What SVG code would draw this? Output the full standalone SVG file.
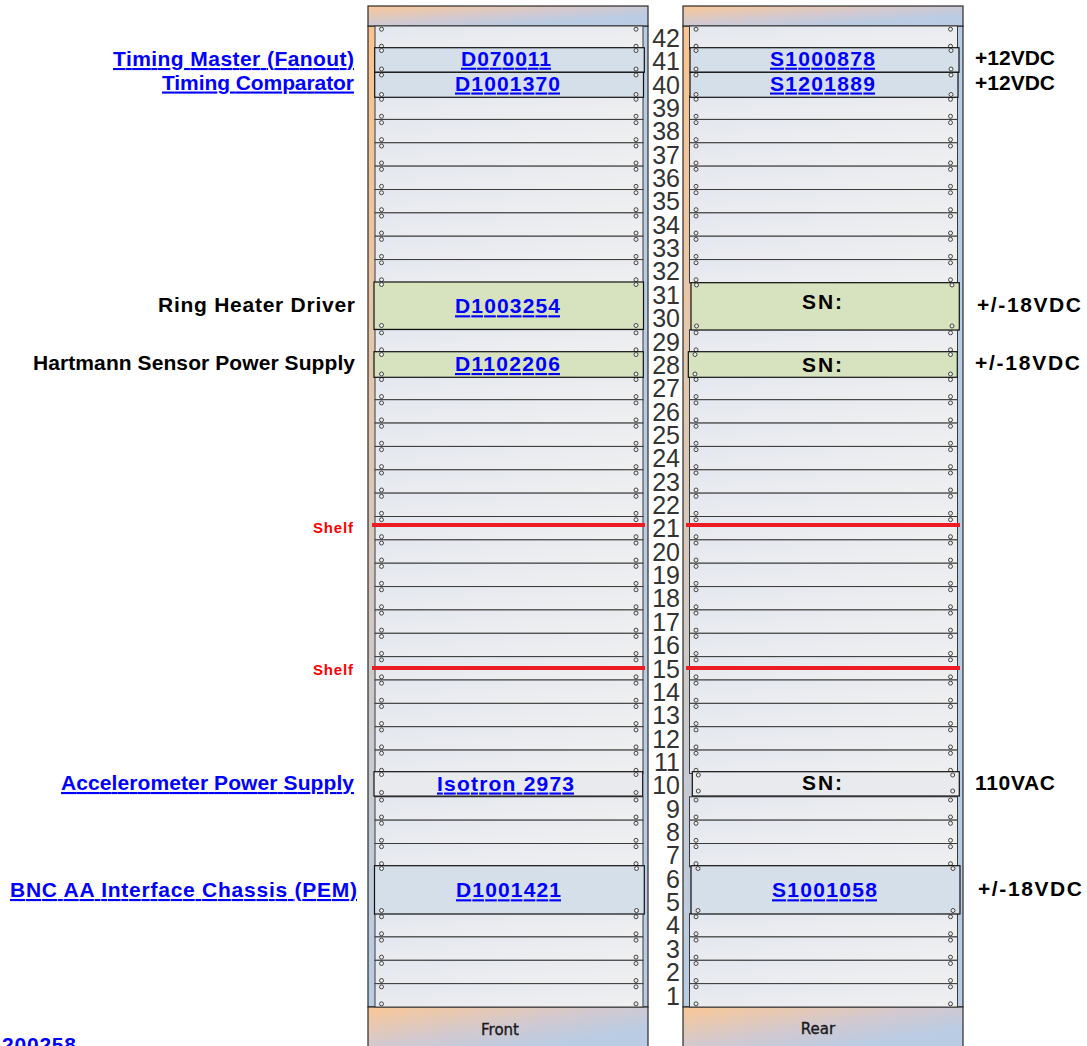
<svg xmlns="http://www.w3.org/2000/svg" xmlns:xlink="http://www.w3.org/1999/xlink" width="1087" height="1046" viewBox="0 0 1087 1046">
<style>
.body{fill:url(#gBody);stroke:#2a2a2a;stroke-width:1.2}
.hdr{fill:url(#gHdr);stroke:#2a2a2a;stroke-width:1.2}
.blank{fill:url(#gBlank);stroke:#3a3a3a;stroke-width:1}
.scr{fill:#eeeeee;stroke:#444;stroke-width:1}
.dblue{fill:#d5dfea;stroke:#111;stroke-width:1.2}
.dgreen{fill:#d7e3bf;stroke:#111;stroke-width:1.2}
.dgrey{fill:#e9eaed;stroke:#111;stroke-width:1.2}
.lbl{font-family:"Liberation Sans",Arial,sans-serif;font-weight:bold;font-size:21px;fill:#000}
.link{fill:#0000ff;text-decoration:underline}
.num{font-family:"Liberation Sans",Arial,sans-serif;font-size:25px;fill:#333;text-anchor:end}
.shelf{stroke:#ed1c24;stroke-width:4}
.shelftxt{font-family:"Liberation Sans",Arial,sans-serif;font-weight:bold;font-size:15px;fill:#ff0000}
.side{font-family:"DejaVu Sans",sans-serif;font-size:15px;fill:#1a1a1a;stroke:#1a1a1a;stroke-width:0.35;text-anchor:middle}
</style>
<defs>
<linearGradient id="gBody" x1="0" y1="0" x2="1" y2="1">
<stop offset="0" stop-color="#fbc48e"/>
<stop offset="0.5" stop-color="#b8cce4"/>
<stop offset="1" stop-color="#b8cce4"/>
</linearGradient>
<linearGradient id="gHdr" x1="0" y1="0" x2="1" y2="1">
<stop offset="0" stop-color="#fac796"/>
<stop offset="0.45" stop-color="#d2c9d0"/>
<stop offset="0.75" stop-color="#b9cce4"/>
<stop offset="1" stop-color="#b9cce4"/>
</linearGradient>
<linearGradient id="gBlank" x1="0" y1="0" x2="1" y2="1">
<stop offset="0" stop-color="#e3e7ef"/>
<stop offset="1" stop-color="#f0f0f0"/>
</linearGradient>
<g id="blank">
<rect class="blank" x="0" y="0" width="268" height="23.36"/>
<circle class="scr" cx="6.5" cy="3.2" r="2"/>
<circle class="scr" cx="6.5" cy="20.2" r="2"/>
<circle class="scr" cx="261" cy="3.2" r="2"/>
<circle class="scr" cx="261" cy="20.2" r="2"/>
</g>
</defs>
<rect x="0" y="0" width="1087" height="1046" fill="#ffffff"/>

<g id="rack-front">
<rect class="body" x="368" y="26" width="280" height="981"/>
<rect class="hdr" x="368" y="6" width="280" height="20"/>
<rect class="hdr" x="368" y="1007" width="280" height="45"/>
<text class="side" x="500" y="1035">Front</text>
<g id="front-blanks">
<use xlink:href="#blank" x="375" y="26"/>
<use xlink:href="#blank" x="375" y="96.07"/>
<use xlink:href="#blank" x="375" y="119.43"/>
<use xlink:href="#blank" x="375" y="142.79"/>
<use xlink:href="#blank" x="375" y="166.14"/>
<use xlink:href="#blank" x="375" y="189.5"/>
<use xlink:href="#blank" x="375" y="212.86"/>
<use xlink:href="#blank" x="375" y="236.21"/>
<use xlink:href="#blank" x="375" y="259.57"/>
<use xlink:href="#blank" x="375" y="329.64"/>
<use xlink:href="#blank" x="375" y="376.36"/>
<use xlink:href="#blank" x="375" y="399.71"/>
<use xlink:href="#blank" x="375" y="423.07"/>
<use xlink:href="#blank" x="375" y="446.43"/>
<use xlink:href="#blank" x="375" y="469.79"/>
<use xlink:href="#blank" x="375" y="493.14"/>
<use xlink:href="#blank" x="375" y="516.5"/>
<use xlink:href="#blank" x="375" y="539.86"/>
<use xlink:href="#blank" x="375" y="563.21"/>
<use xlink:href="#blank" x="375" y="586.57"/>
<use xlink:href="#blank" x="375" y="609.93"/>
<use xlink:href="#blank" x="375" y="633.29"/>
<use xlink:href="#blank" x="375" y="656.64"/>
<use xlink:href="#blank" x="375" y="680"/>
<use xlink:href="#blank" x="375" y="703.36"/>
<use xlink:href="#blank" x="375" y="726.71"/>
<use xlink:href="#blank" x="375" y="750.07"/>
<use xlink:href="#blank" x="375" y="796.79"/>
<use xlink:href="#blank" x="375" y="820.14"/>
<use xlink:href="#blank" x="375" y="843.5"/>
<use xlink:href="#blank" x="375" y="913.57"/>
<use xlink:href="#blank" x="375" y="936.93"/>
<use xlink:href="#blank" x="375" y="960.29"/>
<use xlink:href="#blank" x="375" y="983.64"/>
</g>
</g>

<g id="rack-rear">
<rect class="body" x="683" y="26" width="280" height="981"/>
<rect class="hdr" x="683" y="6" width="280" height="20"/>
<rect class="hdr" x="683" y="1007" width="280" height="45"/>
<text class="side" x="818" y="1034">Rear</text>
<g id="rear-blanks">
<use xlink:href="#blank" x="689.5" y="26"/>
<use xlink:href="#blank" x="689.5" y="96.07"/>
<use xlink:href="#blank" x="689.5" y="119.43"/>
<use xlink:href="#blank" x="689.5" y="142.79"/>
<use xlink:href="#blank" x="689.5" y="166.14"/>
<use xlink:href="#blank" x="689.5" y="189.5"/>
<use xlink:href="#blank" x="689.5" y="212.86"/>
<use xlink:href="#blank" x="689.5" y="236.21"/>
<use xlink:href="#blank" x="689.5" y="259.57"/>
<use xlink:href="#blank" x="689.5" y="329.64"/>
<use xlink:href="#blank" x="689.5" y="376.36"/>
<use xlink:href="#blank" x="689.5" y="399.71"/>
<use xlink:href="#blank" x="689.5" y="423.07"/>
<use xlink:href="#blank" x="689.5" y="446.43"/>
<use xlink:href="#blank" x="689.5" y="469.79"/>
<use xlink:href="#blank" x="689.5" y="493.14"/>
<use xlink:href="#blank" x="689.5" y="516.5"/>
<use xlink:href="#blank" x="689.5" y="539.86"/>
<use xlink:href="#blank" x="689.5" y="563.21"/>
<use xlink:href="#blank" x="689.5" y="586.57"/>
<use xlink:href="#blank" x="689.5" y="609.93"/>
<use xlink:href="#blank" x="689.5" y="633.29"/>
<use xlink:href="#blank" x="689.5" y="656.64"/>
<use xlink:href="#blank" x="689.5" y="680"/>
<use xlink:href="#blank" x="689.5" y="703.36"/>
<use xlink:href="#blank" x="689.5" y="726.71"/>
<use xlink:href="#blank" x="689.5" y="750.07"/>
<use xlink:href="#blank" x="689.5" y="796.79"/>
<use xlink:href="#blank" x="689.5" y="820.14"/>
<use xlink:href="#blank" x="689.5" y="843.5"/>
<use xlink:href="#blank" x="689.5" y="913.57"/>
<use xlink:href="#blank" x="689.5" y="936.93"/>
<use xlink:href="#blank" x="689.5" y="960.29"/>
<use xlink:href="#blank" x="689.5" y="983.64"/>
</g>
</g>

<g id="shelves">
<line class="shelf" x1="372" y1="525" x2="645" y2="525"/>
<line class="shelf" x1="686" y1="525" x2="960" y2="525"/>
<line class="shelf" x1="372" y1="668" x2="645" y2="668"/>
<line class="shelf" x1="686" y1="668" x2="960" y2="668"/>
</g>

<g id="dev-D070011">
<rect class="dblue" x="374.7" y="47.7" width="269.6" height="24.6"/>
<circle class="scr" cx="381.5" cy="50.5" r="2"/><circle class="scr" cx="381.5" cy="69" r="2"/>
<circle class="scr" cx="636" cy="50.5" r="2"/><circle class="scr" cx="636" cy="69" r="2"/>
<text class="lbl link" x="461" y="65.7" textLength="90">D070011</text>
</g>
<g id="dev-D1001370">
<rect class="dblue" x="374.7" y="72.3" width="268.8" height="25"/>
<circle class="scr" cx="381.5" cy="75" r="2"/><circle class="scr" cx="381.5" cy="94.5" r="2"/>
<circle class="scr" cx="636" cy="75" r="2"/><circle class="scr" cx="636" cy="94.5" r="2"/>
<text class="lbl link" x="455" y="90.5" textLength="105">D1001370</text>
</g>
<g id="dev-S1000878">
<rect class="dblue" x="690" y="47.7" width="269" height="24.6"/>
<circle class="scr" cx="696" cy="50.5" r="2"/><circle class="scr" cx="696" cy="69" r="2"/>
<circle class="scr" cx="951" cy="50.5" r="2"/><circle class="scr" cx="951" cy="69" r="2"/>
<text class="lbl link" x="770" y="65.7" textLength="105">S1000878</text>
</g>
<g id="dev-S1201889">
<rect class="dblue" x="690" y="72.3" width="268" height="25"/>
<circle class="scr" cx="696" cy="75" r="2"/><circle class="scr" cx="696" cy="94.5" r="2"/>
<circle class="scr" cx="951" cy="75" r="2"/><circle class="scr" cx="951" cy="94.5" r="2"/>
<text class="lbl link" x="770" y="90.5" textLength="105">S1201889</text>
</g>
<g id="dev-D1003254">
<rect class="dgreen" x="374" y="282" width="269.5" height="47.4"/>
<circle class="scr" cx="381.5" cy="284.5" r="2"/><circle class="scr" cx="381.5" cy="325.5" r="2"/>
<circle class="scr" cx="636" cy="284.5" r="2"/><circle class="scr" cx="636" cy="325.5" r="2"/>
<text class="lbl link" x="455" y="313.3" textLength="105">D1003254</text>
</g>
<g id="dev-SN-31">
<rect class="dgreen" x="691" y="282.7" width="268.3" height="47.3"/>
<circle class="scr" cx="696.5" cy="285" r="2"/><circle class="scr" cx="696.5" cy="326" r="2"/>
<circle class="scr" cx="952" cy="285" r="2"/><circle class="scr" cx="952" cy="326" r="2"/>
<text class="lbl" x="802" y="309.3" textLength="40">SN:</text>
</g>
<g id="dev-D1102206">
<rect class="dgreen" x="374" y="351.7" width="269.3" height="25.6"/>
<circle class="scr" cx="381.5" cy="354.5" r="2"/><circle class="scr" cx="381.5" cy="374" r="2"/>
<circle class="scr" cx="636" cy="354.5" r="2"/><circle class="scr" cx="636" cy="374" r="2"/>
<text class="lbl link" x="455" y="371" textLength="105">D1102206</text>
</g>
<g id="dev-SN-28">
<rect class="dgreen" x="688.3" y="351.7" width="269" height="25.6"/>
<circle class="scr" cx="695" cy="354.5" r="2"/><circle class="scr" cx="695" cy="374" r="2"/>
<circle class="scr" cx="950.5" cy="354.5" r="2"/><circle class="scr" cx="950.5" cy="374" r="2"/>
<text class="lbl" x="802" y="371.5" textLength="40">SN:</text>
</g>
<g id="dev-Isotron">
<rect class="dgrey" x="374" y="771.7" width="268.7" height="24.4"/>
<circle class="scr" cx="381.5" cy="774.5" r="2"/><circle class="scr" cx="381.5" cy="792.5" r="2"/>
<circle class="scr" cx="636" cy="774.5" r="2"/><circle class="scr" cx="636" cy="792.5" r="2"/>
<text class="lbl link" x="437" y="790.5" textLength="137">Isotron 2973</text>
</g>
<g id="dev-SN-10">
<rect class="dgrey" x="692.3" y="771.7" width="267" height="24.3"/>
<circle class="scr" cx="698.3" cy="775" r="2"/><circle class="scr" cx="698.3" cy="791" r="2"/>
<circle class="scr" cx="952.7" cy="775" r="2"/><circle class="scr" cx="952.7" cy="791" r="2"/>
<text class="lbl" x="802" y="790" textLength="40">SN:</text>
</g>
<g id="dev-D1001421">
<rect class="dblue" x="374.5" y="865.7" width="269.8" height="48.3"/>
<circle class="scr" cx="381.5" cy="868.5" r="2"/><circle class="scr" cx="381.5" cy="910.5" r="2"/>
<circle class="scr" cx="636.5" cy="868.5" r="2"/><circle class="scr" cx="636.5" cy="910.5" r="2"/>
<text class="lbl link" x="456" y="897.3" textLength="105">D1001421</text>
</g>
<g id="dev-S1001058">
<rect class="dblue" x="691" y="865.7" width="269" height="48.3"/>
<circle class="scr" cx="698" cy="868.5" r="2"/><circle class="scr" cx="698" cy="910.5" r="2"/>
<circle class="scr" cx="953" cy="868.5" r="2"/><circle class="scr" cx="953" cy="910.5" r="2"/>
<text class="lbl link" x="772" y="897.3" textLength="105">S1001058</text>
</g>

<g id="unit-numbers">
<text class="num" x="680" y="46.9">42</text>
<text class="num" x="680" y="70.2">41</text>
<text class="num" x="680" y="93.6">40</text>
<text class="num" x="680" y="116.9">39</text>
<text class="num" x="680" y="140.3">38</text>
<text class="num" x="680" y="163.6">37</text>
<text class="num" x="680" y="187">36</text>
<text class="num" x="680" y="210.4">35</text>
<text class="num" x="680" y="233.7">34</text>
<text class="num" x="680" y="257.1">33</text>
<text class="num" x="680" y="280.4">32</text>
<text class="num" x="680" y="303.8">31</text>
<text class="num" x="680" y="327.1">30</text>
<text class="num" x="680" y="350.5">29</text>
<text class="num" x="680" y="373.9">28</text>
<text class="num" x="680" y="397.2">27</text>
<text class="num" x="680" y="420.6">26</text>
<text class="num" x="680" y="443.9">25</text>
<text class="num" x="680" y="467.3">24</text>
<text class="num" x="680" y="490.6">23</text>
<text class="num" x="680" y="514">22</text>
<text class="num" x="680" y="537.4">21</text>
<text class="num" x="680" y="560.7">20</text>
<text class="num" x="680" y="584.1">19</text>
<text class="num" x="680" y="607.4">18</text>
<text class="num" x="680" y="630.8">17</text>
<text class="num" x="680" y="654.1">16</text>
<text class="num" x="680" y="677.5">15</text>
<text class="num" x="680" y="700.9">14</text>
<text class="num" x="680" y="724.2">13</text>
<text class="num" x="680" y="747.6">12</text>
<text class="num" x="680" y="770.9">11</text>
<text class="num" x="680" y="794.3">10</text>
<text class="num" x="680" y="817.6">9</text>
<text class="num" x="680" y="841">8</text>
<text class="num" x="680" y="864.4">7</text>
<text class="num" x="680" y="887.7">6</text>
<text class="num" x="680" y="911.1">5</text>
<text class="num" x="680" y="934.4">4</text>
<text class="num" x="680" y="957.8">3</text>
<text class="num" x="680" y="981.1">2</text>
<text class="num" x="680" y="1004.5">1</text>
</g>

<g id="labels-left">
<text class="lbl link" x="113" y="66" textLength="241">Timing Master (Fanout)</text>
<text class="lbl link" x="162" y="89.5" textLength="192">Timing Comparator</text>
<text class="lbl" x="158" y="312" textLength="197">Ring Heater Driver</text>
<text class="lbl" x="33" y="370" textLength="322">Hartmann Sensor Power Supply</text>
<text class="shelftxt" x="313" y="532.5" textLength="40">Shelf</text>
<text class="shelftxt" x="313" y="675" textLength="40">Shelf</text>
<text class="lbl link" x="61" y="790" textLength="293">Accelerometer Power Supply</text>
<text class="lbl link" x="10" y="897" textLength="347">BNC AA Interface Chassis (PEM)</text>
<text class="lbl link" x="2" y="1052" textLength="74">200258</text>
</g>

<g id="labels-right">
<text class="lbl" x="975" y="65" textLength="80">+12VDC</text>
<text class="lbl" x="975" y="90" textLength="80">+12VDC</text>
<text class="lbl" x="977" y="312" textLength="104">+/-18VDC</text>
<text class="lbl" x="975" y="370" textLength="105">+/-18VDC</text>
<text class="lbl" x="975" y="790" textLength="80">110VAC</text>
<text class="lbl" x="978" y="896" textLength="104">+/-18VDC</text>
</g>
</svg>
